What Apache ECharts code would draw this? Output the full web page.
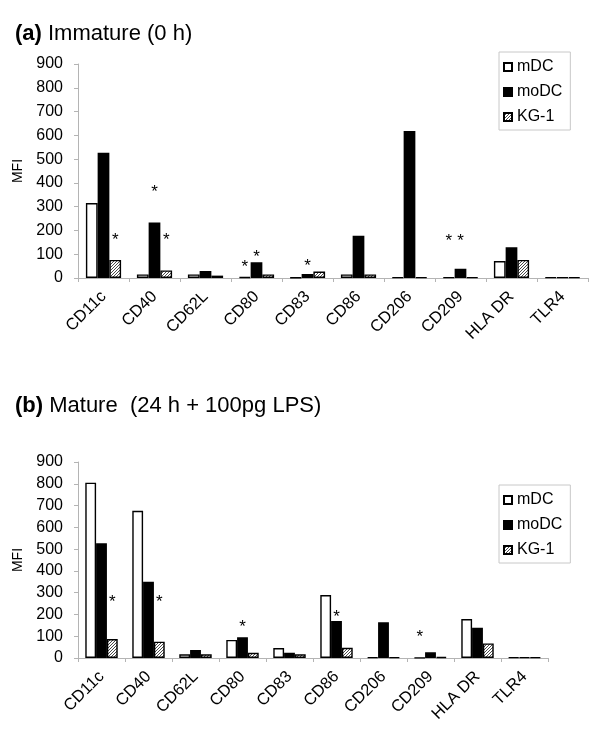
<!DOCTYPE html>
<html>
<head>
<meta charset="utf-8">
<script src="https://cdn.jsdelivr.net/npm/echarts@6/dist/echarts.min.js"></script>
<style>
html,body{margin:0;padding:0;background:#fff;}
#chart{width:600px;height:747px;}
</style>
</head>
<body>
<div id="chart"></div>
<script>
// ---- data ----
var categories = ['CD11c','CD40','CD62L','CD80','CD83','CD86','CD206','CD209','HLA DR','TLR4'];
var seriesNames = ['mDC','moDC','KG-1'];
var yTicks = [0,100,200,300,400,500,600,700,800,900];

var immature_mDC  = [315, 15, 15, 4, 2, 15, 3, 3, 71, 3];
var immature_moDC = [527, 233, 29, 66, 17, 178, 618, 39, 129, 3];
var immature_KG1  = [76, 32, 10, 15, 27, 15, 3, 3, 76, 3];

var mature_mDC  = [805, 676, 17, 83, 46, 289, 3, 1, 179, 3];
var mature_moDC = [527, 350, 37, 95, 24, 170, 164, 26, 139, 3];
var mature_KG1  = [87, 75, 17, 24, 17, 47, 3, 5, 67, 3];

// significance asterisks: height (MFI) at which each "*" sits, null = none
var starsA_mDC  = [null, null, null, 63, null, null, null, 172, null, null];
var starsA_moDC = [null, 378, null, 105, 67, null, null, 172, null, null];
var starsA_KG1  = [177, 177, null, null, null, null, null, null, null, null];

var starsB_mDC  = [null, null, null, null, null, null, null, 115, null, null];
var starsB_moDC = [null, null, null, 160, null, 206, null, null, null, null];
var starsB_KG1  = [275, 275, null, null, null, null, null, null, null, null];

var titleA = 'Immature (0 h)';
var titleB = 'Mature  (24 h + 100pg LPS)';

// ---- styles ----
var FONT = 'Liberation Sans, Arial, Helvetica, sans-serif';
function hatch() {
  var c = document.createElement('canvas');
  c.width = 3; c.height = 3;
  var g = c.getContext('2d');
  g.fillStyle = '#ffffff'; g.fillRect(0,0,3,3);
  g.fillStyle = '#4a4a4a';
  g.fillRect(2,0,1,1); g.fillRect(1,1,1,1); g.fillRect(0,2,1,1);
  return {image: c, repeat: 'repeat'};
}
var fills = ['#ffffff', '#000000', hatch()];

function starMarks(arr) {
  var d = [];
  arr.forEach(function (v, i) { if (v !== null) d.push({coord: [i, v]}); });
  return {
    symbol: 'rect', symbolSize: 1,
    itemStyle: {color: 'rgba(0,0,0,0)'},
    label: {show: true, position: 'inside', formatter: '*', fontSize: 17, color: '#000', fontFamily: FONT, offset: [0, 4]},
    data: d, silent: true, animation: false
  };
}

function barSeries(name, idx, values, stars, gi) {
  return {
    type: 'bar', name: name, xAxisIndex: gi, yAxisIndex: gi,
    data: values,
    barGap: '0%', barCategoryGap: '31%',
    itemStyle: {color: fills[idx], borderColor: '#000', borderWidth: 1.4},
    emphasis: {disabled: true},
    markPoint: starMarks(stars)
  };
}

function xAxis(gi) {
  return {
    type: 'category', gridIndex: gi, data: categories,
    axisLine: {lineStyle: {color: '#b4b4b4', width: 1}},
    axisTick: {show: true, length: 4, lineStyle: {color: '#b4b4b4'}},
    axisLabel: {rotate: 45, interval: 0, margin: 16, fontSize: 16.5, color: '#000', fontFamily: FONT}
  };
}
function yAxis(gi) {
  return {
    type: 'value', gridIndex: gi, min: yTicks[0], max: yTicks[yTicks.length-1], interval: yTicks[1]-yTicks[0],
    name: 'MFI', nameLocation: 'middle', nameGap: 51, nameRotate: 90,
    nameTextStyle: {fontSize: 14, color: '#000', fontFamily: FONT},
    axisLine: {show: true, lineStyle: {color: '#b4b4b4', width: 1}},
    axisTick: {show: true, length: 4, lineStyle: {color: '#b4b4b4'}},
    axisLabel: {margin: 15, fontSize: 16, color: '#000', fontFamily: FONT},
    splitLine: {show: false}
  };
}
function legend(top) {
  return {
    orient: 'vertical', left: 499, top: top,
    data: seriesNames,
    backgroundColor: '#fff', borderColor: '#c8c8c8', borderWidth: 1,
    padding: [7, 8, 5, 4], itemGap: 9, itemWidth: 8, itemHeight: 8,
    textStyle: {fontSize: 16, color: '#000', fontFamily: FONT},
    icon: 'rect', selectedMode: false
  };
}

var chart = echarts.init(document.getElementById('chart'), null, {renderer: 'canvas'});
chart.setOption({
  animation: false,
  backgroundColor: '#fff',
  title: [
    {text: '{b|(a)} ' + titleA, left: 10, top: 18,
     textStyle: {fontSize: 22, fontWeight: 'normal', color: '#000', fontFamily: FONT,
       rich: {b: {fontSize: 22, fontWeight: 'bold', color: '#000', fontFamily: FONT}}}},
    {text: '{b|(b)} ' + titleB, left: 10, top: 390,
     textStyle: {fontSize: 22, fontWeight: 'normal', color: '#000', fontFamily: FONT,
       rich: {b: {fontSize: 22, fontWeight: 'bold', color: '#000', fontFamily: FONT}}}}
  ],
  legend: [legend(52), legend(485)],
  grid: [
    {left: 78, width: 510, top: 64, height: 214},
    {left: 78, width: 470, top: 462, height: 196}
  ],
  xAxis: [xAxis(0), xAxis(1)],
  yAxis: [yAxis(0), yAxis(1)],
  series: [
    barSeries('mDC', 0, immature_mDC, starsA_mDC, 0),
    barSeries('moDC', 1, immature_moDC, starsA_moDC, 0),
    barSeries('KG-1', 2, immature_KG1, starsA_KG1, 0),
    barSeries('mDC', 0, mature_mDC, starsB_mDC, 1),
    barSeries('moDC', 1, mature_moDC, starsB_moDC, 1),
    barSeries('KG-1', 2, mature_KG1, starsB_KG1, 1)
  ]
});
</script>
</body>
</html>
